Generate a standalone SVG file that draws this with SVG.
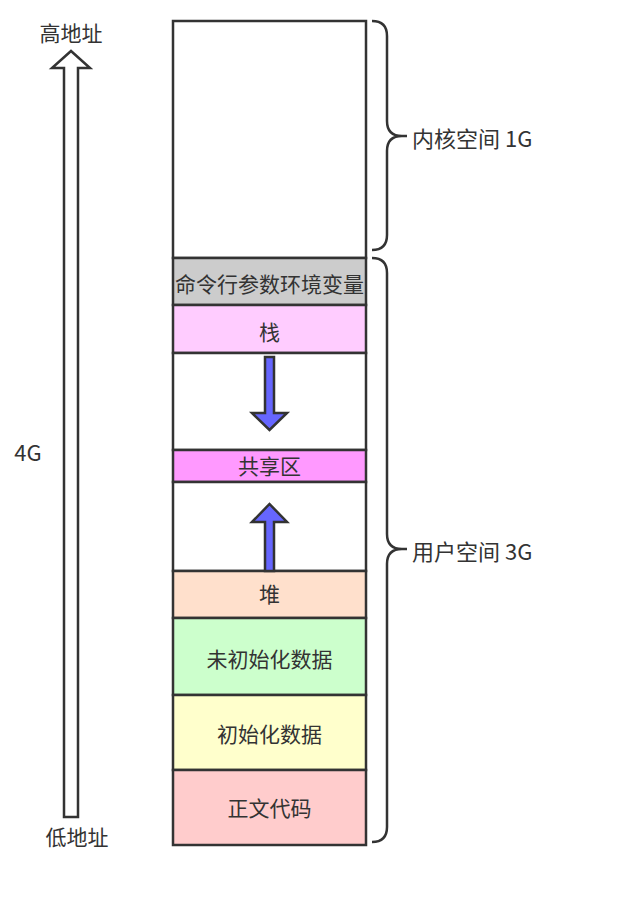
<svg xmlns="http://www.w3.org/2000/svg" width="641" height="904" viewBox="0 0 641 904">
<style>
.t{font-family:"Noto Sans CJK SC","Liberation Sans",sans-serif;font-size:21px;fill:#333;text-anchor:middle;dominant-baseline:central}
.l{text-anchor:start;font-size:22px}
.box{stroke:#333;stroke-width:2.5}
.br{fill:none;stroke:#333;stroke-width:2.5}
.ar{fill:#6666ff;stroke:#333;stroke-width:2.5;stroke-linejoin:miter}
</style>
<rect width="641" height="904" fill="#fff"/>
<g id="kernel"><rect class="box" x="173" y="21" width="193" height="237" fill="#fff"/></g>
<g id="args"><rect class="box" x="173" y="258" width="193" height="47" fill="#cccccc"/><text class="t" x="269.5" y="283" textLength="189" lengthAdjust="spacingAndGlyphs">命令行参数环境变量</text></g>
<g id="stack"><rect class="box" x="173" y="305" width="193" height="48" fill="#ffccff"/><text class="t" x="269.5" y="331">栈</text></g>
<g id="gap1"><rect class="box" x="173" y="353" width="193" height="97" fill="#fff"/></g>
<g id="shared"><rect class="box" x="173" y="450" width="193" height="32" fill="#ff99ff"/><text class="t" x="269.5" y="465">共享区</text></g>
<g id="gap2"><rect class="box" x="173" y="482" width="193" height="89" fill="#fff"/></g>
<g id="heap"><rect class="box" x="173" y="571" width="193" height="47" fill="#ffe0cc"/><text class="t" x="269.5" y="593">堆</text></g>
<g id="bss"><rect class="box" x="173" y="618" width="193" height="77" fill="#ccffcc"/><text class="t" x="269.5" y="658">未初始化数据</text></g>
<g id="data"><rect class="box" x="173" y="695" width="193" height="75" fill="#ffffcc"/><text class="t" x="269.5" y="733">初始化数据</text></g>
<g id="text"><rect class="box" x="173" y="770" width="193" height="75" fill="#ffcccc"/><text class="t" x="269.5" y="807">正文代码</text></g>
<g id="connectors">
<path class="ar" d="M265,357 H274 V413 H287 L269.5,430 L252,413 H265 Z"/>
<path class="ar" d="M265,571 V522 H252 L269.5,504 L287,522 H274 V571 Z"/>
<path d="M64,817 V68 H52 L71,51 L90,68 H78 V817 Z" fill="#fff" stroke="#333" stroke-width="2.5"/>
<path class="br" d="M372,21 Q387,21 387,36 V121 Q387,136 402,136 H407 M402,136 Q387,136 387,151 V235 Q387,250 372,250"/>
<path class="br" d="M372,258 Q387,258 387,273 V534 Q387,549 402,549 H407 M402,549 Q387,549 387,564 V827 Q387,842 372,842"/>
</g>
<g id="labels">
<text class="t" x="71" y="32">高地址</text>
<text class="t" x="77" y="836">低地址</text>
<text class="t" x="28" y="451" style="font-size:22px">4G</text>
<text class="t l" x="412" y="137">内核空间 1G</text>
<text class="t l" x="412" y="550">用户空间 3G</text>
</g>
</svg>
